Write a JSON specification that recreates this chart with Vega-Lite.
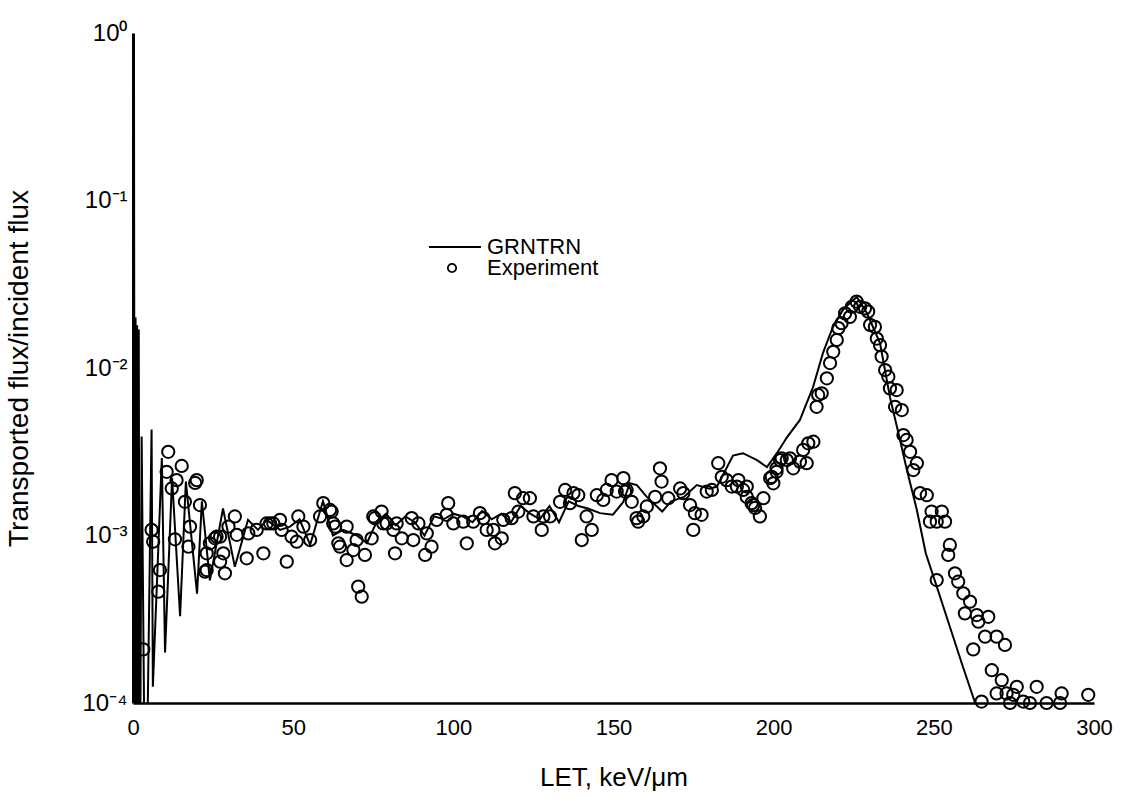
{
  "$schema": "https://vega.github.io/schema/vega-lite/v6.json",
  "width": 961,
  "height": 670,
  "autosize": "none",
  "padding": {"left": 133, "top": 33, "right": 34, "bottom": 103},
  "background": "white",
  "config": {"view": {"stroke": null}, "font": "Liberation Sans"},
  "datasets": {
    "grntrn": [
      {"x": 0.05, "y": 0.00001}, {"x": 0.3, "y": 0.95}, {"x": 0.55, "y": 0.00001}, {"x": 0.8, "y": 0.02},
      {"x": 1.05, "y": 0.00001}, {"x": 1.3, "y": 0.018}, {"x": 1.55, "y": 0.00001}, {"x": 1.8, "y": 0.017},
      {"x": 2.1, "y": 0.00001}, {"x": 2.7, "y": 0.0039}, {"x": 3.9, "y": 0.00001}, {"x": 5.8, "y": 0.0043},
      {"x": 6.2, "y": 0.000125}, {"x": 9.0, "y": 0.0029}, {"x": 10.0, "y": 0.0002}, {"x": 12.2, "y": 0.0022},
      {"x": 14.7, "y": 0.00033}, {"x": 16.5, "y": 0.0021}, {"x": 20.0, "y": 0.00045}, {"x": 21.5, "y": 0.0016},
      {"x": 24.0, "y": 0.00054}, {"x": 28.1, "y": 0.00145}, {"x": 31.8, "y": 0.00065}, {"x": 35.9, "y": 0.00124},
      {"x": 39.0, "y": 0.00108}, {"x": 41.8, "y": 0.00124}, {"x": 45.9, "y": 0.00108}, {"x": 49.0, "y": 0.00113},
      {"x": 52.0, "y": 0.00125}, {"x": 55.3, "y": 0.00088}, {"x": 59.3, "y": 0.0016}, {"x": 62.4, "y": 0.001},
      {"x": 65.6, "y": 0.00108}, {"x": 69.9, "y": 0.001}, {"x": 73.0, "y": 0.0009}, {"x": 76.0, "y": 0.0012},
      {"x": 79.0, "y": 0.00135}, {"x": 82.0, "y": 0.00115}, {"x": 85.0, "y": 0.0013}, {"x": 88.0, "y": 0.0012},
      {"x": 91.0, "y": 0.001}, {"x": 94.0, "y": 0.0013}, {"x": 97.0, "y": 0.00125}, {"x": 100.0, "y": 0.00135},
      {"x": 103.0, "y": 0.0013}, {"x": 106.0, "y": 0.0012}, {"x": 109.0, "y": 0.0014}, {"x": 112.0, "y": 0.00125},
      {"x": 115.0, "y": 0.00135}, {"x": 118.0, "y": 0.0012}, {"x": 121.0, "y": 0.0015}, {"x": 124.0, "y": 0.00135},
      {"x": 127.0, "y": 0.00125}, {"x": 130.0, "y": 0.0015}, {"x": 133.0, "y": 0.0012}, {"x": 136.0, "y": 0.0016},
      {"x": 139.0, "y": 0.0015}, {"x": 142.0, "y": 0.00145}, {"x": 145.8, "y": 0.00136}, {"x": 149.8, "y": 0.00133},
      {"x": 153.0, "y": 0.00158}, {"x": 155.1, "y": 0.00205}, {"x": 157.3, "y": 0.002}, {"x": 160.4, "y": 0.0017},
      {"x": 165.2, "y": 0.00139}, {"x": 168.0, "y": 0.0016}, {"x": 172.0, "y": 0.0017}, {"x": 176.0, "y": 0.002},
      {"x": 180.0, "y": 0.0019}, {"x": 182.3, "y": 0.00196}, {"x": 187.3, "y": 0.003}, {"x": 190.4, "y": 0.0031},
      {"x": 194.8, "y": 0.00282}, {"x": 197.9, "y": 0.00256}, {"x": 201.0, "y": 0.0031}, {"x": 204.2, "y": 0.00387},
      {"x": 208.2, "y": 0.0049}, {"x": 212.3, "y": 0.0077}, {"x": 215.4, "y": 0.0123}, {"x": 218.5, "y": 0.0176},
      {"x": 221.6, "y": 0.0222}, {"x": 224.8, "y": 0.0255}, {"x": 226.0, "y": 0.0265}, {"x": 229.1, "y": 0.0213},
      {"x": 233.2, "y": 0.0141}, {"x": 236.3, "y": 0.0067}, {"x": 238.5, "y": 0.00445}, {"x": 241.6, "y": 0.00246},
      {"x": 244.7, "y": 0.00142}, {"x": 247.5, "y": 0.00078}, {"x": 251.0, "y": 0.00049}, {"x": 255.0, "y": 0.000285},
      {"x": 259.1, "y": 0.000164}, {"x": 262.9, "y": 0.0001}, {"x": 264.5, "y": 0.00008}
    ],
    "exp": [
      {"x": 3.2, "y": 0.000209}, {"x": 5.8, "y": 0.00108}, {"x": 6.3, "y": 0.000918}, {"x": 8.4, "y": 0.000622},
      {"x": 7.9, "y": 0.000462}, {"x": 11.0, "y": 0.00316}, {"x": 10.5, "y": 0.0024}, {"x": 15.2, "y": 0.0026},
      {"x": 13.6, "y": 0.00214}, {"x": 12.1, "y": 0.00191}, {"x": 19.9, "y": 0.00214}, {"x": 19.4, "y": 0.00206},
      {"x": 16.2, "y": 0.00159}, {"x": 20.9, "y": 0.00152}, {"x": 17.8, "y": 0.00113}, {"x": 13.1, "y": 0.000949},
      {"x": 17.3, "y": 0.000857}, {"x": 24.0, "y": 0.000898}, {"x": 26.1, "y": 0.000983}, {"x": 23.0, "y": 0.000783},
      {"x": 28.2, "y": 0.000783}, {"x": 23.0, "y": 0.000622}, {"x": 28.7, "y": 0.000595}, {"x": 27.2, "y": 0.000698},
      {"x": 29.8, "y": 0.00113}, {"x": 31.8, "y": 0.0013}, {"x": 32.4, "y": 0.00101}, {"x": 35.5, "y": 0.000731},
      {"x": 36.0, "y": 0.00103}, {"x": 38.6, "y": 0.00108}, {"x": 40.7, "y": 0.000783}, {"x": 41.7, "y": 0.00118},
      {"x": 43.8, "y": 0.00118}, {"x": 46.4, "y": 0.00108}, {"x": 48.0, "y": 0.000698}, {"x": 49.5, "y": 0.000983},
      {"x": 51.6, "y": 0.0013}, {"x": 53.2, "y": 0.00113}, {"x": 51.1, "y": 0.000918}, {"x": 55.3, "y": 0.00094},
      {"x": 58.4, "y": 0.0013}, {"x": 59.4, "y": 0.00156}, {"x": 61.5, "y": 0.00142}, {"x": 62.5, "y": 0.00118},
      {"x": 64.1, "y": 0.000898}, {"x": 66.7, "y": 0.00113}, {"x": 66.7, "y": 0.000714}, {"x": 27.2, "y": 0.000983},
      {"x": 22.5, "y": 0.000608}, {"x": 25.6, "y": 0.000962}, {"x": 42.8, "y": 0.00118}, {"x": 45.9, "y": 0.00124},
      {"x": 62.0, "y": 0.00139}, {"x": 69.8, "y": 0.00094}, {"x": 72.4, "y": 0.000765}, {"x": 74.5, "y": 0.000962},
      {"x": 77.6, "y": 0.00139}, {"x": 75.0, "y": 0.0013}, {"x": 81.8, "y": 0.000783}, {"x": 70.3, "y": 0.000495},
      {"x": 71.4, "y": 0.000431}, {"x": 79.2, "y": 0.00118}, {"x": 82.3, "y": 0.00118}, {"x": 63.1, "y": 0.00113},
      {"x": 64.6, "y": 0.000857}, {"x": 68.8, "y": 0.000819}, {"x": 75.5, "y": 0.00127}, {"x": 78.1, "y": 0.00118},
      {"x": 81.3, "y": 0.00108}, {"x": 83.9, "y": 0.000962}, {"x": 87.0, "y": 0.00127}, {"x": 89.1, "y": 0.00118},
      {"x": 87.5, "y": 0.00094}, {"x": 91.7, "y": 0.00103}, {"x": 91.2, "y": 0.000765}, {"x": 93.2, "y": 0.000857},
      {"x": 94.8, "y": 0.00124}, {"x": 97.9, "y": 0.00133}, {"x": 98.4, "y": 0.00156}, {"x": 100.0, "y": 0.00118},
      {"x": 103.1, "y": 0.00121}, {"x": 104.2, "y": 0.000898}, {"x": 106.2, "y": 0.00121}, {"x": 108.3, "y": 0.00136},
      {"x": 109.4, "y": 0.00127}, {"x": 110.4, "y": 0.00108}, {"x": 112.5, "y": 0.00108}, {"x": 113.0, "y": 0.000898},
      {"x": 115.1, "y": 0.000962}, {"x": 115.6, "y": 0.00124}, {"x": 118.2, "y": 0.00127}, {"x": 119.2, "y": 0.00179},
      {"x": 120.3, "y": 0.00139}, {"x": 121.8, "y": 0.00167}, {"x": 123.9, "y": 0.00167}, {"x": 125.0, "y": 0.0013},
      {"x": 128.1, "y": 0.0013}, {"x": 127.6, "y": 0.00108}, {"x": 130.2, "y": 0.0013}, {"x": 133.3, "y": 0.00159},
      {"x": 134.9, "y": 0.00187}, {"x": 137.5, "y": 0.00179}, {"x": 139.0, "y": 0.00174}, {"x": 136.4, "y": 0.00156},
      {"x": 141.6, "y": 0.0013}, {"x": 143.2, "y": 0.00108}, {"x": 140.1, "y": 0.00094}, {"x": 144.8, "y": 0.00174},
      {"x": 147.9, "y": 0.00187}, {"x": 149.4, "y": 0.00214}, {"x": 153.1, "y": 0.0022}, {"x": 153.6, "y": 0.00183},
      {"x": 151.0, "y": 0.00183}, {"x": 146.8, "y": 0.00163}, {"x": 154.1, "y": 0.00187}, {"x": 155.7, "y": 0.00159},
      {"x": 157.2, "y": 0.00127}, {"x": 157.7, "y": 0.00121}, {"x": 164.5, "y": 0.00252}, {"x": 165.0, "y": 0.0021},
      {"x": 163.0, "y": 0.0017}, {"x": 160.4, "y": 0.00149}, {"x": 167.1, "y": 0.00167}, {"x": 170.8, "y": 0.00191},
      {"x": 171.8, "y": 0.00179}, {"x": 173.9, "y": 0.00152}, {"x": 175.4, "y": 0.00136}, {"x": 177.5, "y": 0.00133},
      {"x": 174.9, "y": 0.00108}, {"x": 179.1, "y": 0.00183}, {"x": 180.7, "y": 0.00187}, {"x": 182.7, "y": 0.0027},
      {"x": 183.8, "y": 0.00224}, {"x": 185.3, "y": 0.00214}, {"x": 186.9, "y": 0.00196}, {"x": 189.0, "y": 0.00214},
      {"x": 190.5, "y": 0.00187}, {"x": 191.6, "y": 0.0017}, {"x": 193.1, "y": 0.00156}, {"x": 194.2, "y": 0.00146},
      {"x": 195.7, "y": 0.0013}, {"x": 196.8, "y": 0.00167}, {"x": 199.4, "y": 0.00224}, {"x": 200.9, "y": 0.0024},
      {"x": 188.5, "y": 0.00196}, {"x": 191.6, "y": 0.00196}, {"x": 193.6, "y": 0.00152}, {"x": 198.9, "y": 0.0022},
      {"x": 199.9, "y": 0.00205}, {"x": 200.9, "y": 0.00252}, {"x": 202.5, "y": 0.00289}, {"x": 205.1, "y": 0.00289},
      {"x": 206.1, "y": 0.00252}, {"x": 208.2, "y": 0.00276}, {"x": 210.3, "y": 0.0027}, {"x": 209.2, "y": 0.00324},
      {"x": 210.8, "y": 0.00355}, {"x": 212.4, "y": 0.00363}, {"x": 159.3, "y": 0.0013}, {"x": 202.0, "y": 0.00282},
      {"x": 204.1, "y": 0.00282}, {"x": 213.4, "y": 0.00587}, {"x": 213.9, "y": 0.0069}, {"x": 215.0, "y": 0.00706},
      {"x": 216.6, "y": 0.00868}, {"x": 217.6, "y": 0.0107}, {"x": 218.6, "y": 0.0125}, {"x": 219.7, "y": 0.0147},
      {"x": 220.2, "y": 0.0173}, {"x": 221.2, "y": 0.0185}, {"x": 222.3, "y": 0.0212}, {"x": 223.8, "y": 0.0202},
      {"x": 224.4, "y": 0.0232}, {"x": 225.9, "y": 0.0249}, {"x": 227.0, "y": 0.0232}, {"x": 228.5, "y": 0.0227},
      {"x": 229.5, "y": 0.0217}, {"x": 230.1, "y": 0.0181}, {"x": 231.6, "y": 0.0176}, {"x": 232.2, "y": 0.015},
      {"x": 233.2, "y": 0.0137}, {"x": 233.7, "y": 0.0117}, {"x": 234.8, "y": 0.00972}, {"x": 235.8, "y": 0.00887},
      {"x": 236.3, "y": 0.00756}, {"x": 238.4, "y": 0.00739}, {"x": 237.9, "y": 0.00587}, {"x": 240.0, "y": 0.00561},
      {"x": 240.5, "y": 0.00398}, {"x": 241.5, "y": 0.00372}, {"x": 242.6, "y": 0.00316}, {"x": 244.7, "y": 0.0027},
      {"x": 243.6, "y": 0.00246}, {"x": 245.7, "y": 0.00179}, {"x": 247.8, "y": 0.00174}, {"x": 249.3, "y": 0.00139},
      {"x": 252.5, "y": 0.00139}, {"x": 248.8, "y": 0.00121}, {"x": 250.9, "y": 0.00121}, {"x": 253.5, "y": 0.00121},
      {"x": 255.0, "y": 0.000878}, {"x": 254.5, "y": 0.000765}, {"x": 250.9, "y": 0.000542}, {"x": 256.6, "y": 0.000595},
      {"x": 257.6, "y": 0.00053}, {"x": 259.2, "y": 0.000452}, {"x": 261.3, "y": 0.000403}, {"x": 259.7, "y": 0.000343},
      {"x": 263.4, "y": 0.000335}, {"x": 263.9, "y": 0.000306}, {"x": 267.0, "y": 0.000327}, {"x": 266.0, "y": 0.000249},
      {"x": 269.6, "y": 0.000249}, {"x": 272.2, "y": 0.000222}, {"x": 262.3, "y": 0.000209}, {"x": 268.1, "y": 0.000157},
      {"x": 271.2, "y": 0.000137}, {"x": 275.9, "y": 0.000125}, {"x": 282.1, "y": 0.000125}, {"x": 289.9, "y": 0.000114},
      {"x": 269.6, "y": 0.000114}, {"x": 272.7, "y": 0.000114}, {"x": 274.8, "y": 0.000112}, {"x": 277.9, "y": 0.000102},
      {"x": 264.9, "y": 0.000102}, {"x": 273.8, "y": 0.0001}, {"x": 280.0, "y": 0.0001}, {"x": 285.2, "y": 0.0001},
      {"x": 289.4, "y": 0.0001}, {"x": 298.2, "y": 0.000112}
    ]
  },
  "encoding": {
    "x": {
      "field": "x", "type": "quantitative",
      "scale": {"domain": [0, 300], "nice": false, "zero": false},
      "axis": {
        "title": "LET, keV/μm",
        "values": [0, 50, 100, 150, 200, 250, 300],
        "ticks": false,
        "domainColor": "black", "domainWidth": 2.5,
        "grid": false,
        "labelFontSize": 22, "labelColor": "black", "labelPadding": 14,
        "labelFlush": false, "labelOverlap": false, "labelFont": "Liberation Sans",
        "titleFontSize": 26, "titleFontWeight": "normal", "titleColor": "black",
        "titleFont": "Liberation Sans", "titlePadding": 26
      }
    },
    "y": {
      "field": "y", "type": "quantitative",
      "scale": {"type": "log", "domain": [0.0001, 1], "nice": false},
      "axis": {
        "title": "Transported flux/incident flux",
        "values": [0.0001, 0.001, 0.01, 0.1, 1],
        "labelExpr": "datum.value === 1 ? '10⁰' : datum.value === 0.1 ? '10⁻¹' : datum.value === 0.01 ? '10⁻²' : datum.value === 0.001 ? '10⁻³' : '10⁻⁴'",
        "ticks": false,
        "domainColor": "black", "domainWidth": 3,
        "grid": false,
        "labelFontSize": 24, "labelColor": "black", "labelPadding": 6,
        "labelFlush": false, "labelOverlap": false, "labelFont": "Liberation Sans",
        "titleFontSize": 28, "titleFontWeight": "normal", "titleColor": "black",
        "titleFont": "Liberation Sans", "titlePadding": 48
      }
    }
  },
  "layer": [
    {
      "data": {"name": "grntrn"},
      "mark": {"type": "line", "strokeWidth": 2, "clip": true},
      "encoding": {
        "color": {
          "datum": "GRNTRN",
          "scale": {"domain": ["GRNTRN"], "range": ["black"]},
          "legend": {
            "title": null, "orient": "none", "legendX": 295, "legendY": 187,
            "symbolType": "stroke", "symbolSize": 2704, "symbolStrokeWidth": 2,
            "symbolStrokeColor": "black",
            "labelFontSize": 22, "labelColor": "black", "labelFont": "Liberation Sans",
            "labelOffset": 5, "padding": 0
          }
        }
      }
    },
    {
      "data": {"name": "exp"},
      "mark": {"type": "point", "filled": false, "stroke": "black", "strokeWidth": 2, "size": 150, "opacity": 1, "clip": false},
      "encoding": {
        "shape": {
          "datum": "Experiment",
          "scale": {"domain": ["Experiment"], "range": ["circle"]},
          "legend": {
            "title": null, "orient": "none", "legendX": 308, "legendY": 224,
            "symbolSize": 70, "symbolStrokeWidth": 1.8, "symbolStrokeColor": "black",
            "symbolFillColor": "transparent",
            "labelFontSize": 22, "labelColor": "black", "labelFont": "Liberation Sans",
            "labelOffset": 24, "padding": 0
          }
        }
      }
    }
  ]
}
